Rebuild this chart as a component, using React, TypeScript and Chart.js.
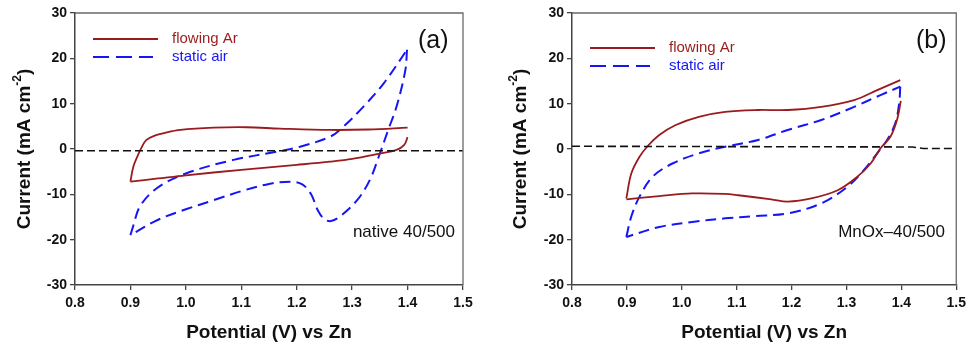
import React, { useEffect, useRef } from "react";
import { Chart, registerables } from "chart.js";

Chart.register(...registerables);

// ---- Panel (a) native 40/500 ----
// flowing Ar: anodic-to-cathodic (upper) branch and return (lower) branch
const aArUpX = [1.4, 1.33, 1.26, 1.17, 1.11, 1.05, 0.99, 0.96, 0.945, 0.929, 0.92, 0.913, 0.905, 0.9];
const aArUpY = [4.7, 4.3, 4.2, 4.5, 4.8, 4.7, 4.2, 3.5, 3.0, 2.0, 0.3, -1.5, -4.0, -7.2];
const aArLoX = [0.9, 0.95, 1.0, 1.1, 1.2, 1.26, 1.3, 1.35, 1.38, 1.394, 1.4];
const aArLoY = [-7.2, -6.5, -5.8, -4.6, -3.5, -2.8, -2.2, -1.0, -0.2, 0.9, 2.6];
// static air
const aAirUpX = [0.9, 0.905, 0.917, 0.947, 1.0, 1.086, 1.164, 1.206, 1.26, 1.284, 1.32, 1.357, 1.399];
const aAirUpY = [-19, -17, -12.7, -8.7, -5.4, -2.4, -0.6, 0.5, 2.7, 4.9, 9.3, 14.5, 21.9];
const aAirLoX = [1.399, 1.396, 1.38, 1.365, 1.35, 1.332, 1.309, 1.278, 1.262, 1.25, 1.238, 1.226, 1.21, 1.19, 1.15, 1.1, 1.05, 1.0, 0.95, 0.9];
const aAirLoY = [21.9, 17.4, 9.3, 4.2, -1.0, -6.8, -11.3, -14.9, -15.9, -15.5, -13.5, -10.0, -7.8, -7.2, -7.7, -9.3, -11.3, -13.3, -15.6, -19];
const aBaseX = [0.8, 1.5];
const aBaseY = [-0.4, -0.4];

// ---- Panel (b) MnOx-40/500 ----
const bArUpX = [0.899, 0.908, 0.923, 0.938, 0.959, 0.989, 1.031, 1.079, 1.139, 1.193, 1.254, 1.314, 1.356, 1.398];
const bArUpY = [-10.9, -5.4, -1.7, 0.66, 3.1, 5.3, 7.1, 8.2, 8.6, 8.6, 9.3, 10.8, 13.0, 15.2];
const bArLoX = [1.399, 1.392, 1.38, 1.362, 1.344, 1.32, 1.284, 1.236, 1.193, 1.163, 1.103, 1.079, 1.019, 0.959, 0.899];
const bArLoY = [10.6, 6.4, 2.7, 0.15, -3.2, -6.1, -9.1, -10.9, -11.6, -11.1, -10.2, -9.9, -9.8, -10.4, -11.1];
const bAirUpX = [0.899, 0.908, 0.923, 0.947, 0.983, 1.031, 1.079, 1.139, 1.193, 1.254, 1.314, 1.362, 1.398];
const bAirUpY = [-19.4, -14.9, -10.5, -6.1, -3.2, -0.95, 0.5, 2.0, 4.2, 6.4, 9.3, 11.9, 13.75];
const bAirLoX = [1.398, 1.396, 1.389, 1.374, 1.356, 1.332, 1.302, 1.254, 1.193, 1.133, 1.079, 1.019, 0.959, 0.899];
const bAirLoY = [13.75, 10.1, 5.7, 2.0, -0.95, -4.6, -8.3, -12.0, -14.2, -14.8, -15.3, -16.1, -17.2, -19.4];
const bBaseX = [0.8, 1.2, 1.42, 1.44, 1.5];
const bBaseY = [0.6, 0.5, 0.45, 0.1, 0.1];

const seriesLabels = ["flowing Ar", "static air"];
const xTicks = [0.8, 0.9, 1.0, 1.1, 1.2, 1.3, 1.4, 1.5];
const yTicks = [-30, -20, -10, 0, 10, 20, 30];

const RED = "#9A1B1E";
const BLUE = "#1616F5";
const FONT = "'Liberation Sans', Arial, sans-serif";

const pts = (xs: number[], ys: number[]) => xs.map((x, i) => ({ x, y: ys[i] }));

type PanelProps = {
  left: number;
  width: number;
  plotLeft: number;
  plotRight: number;
  ar: number[][][];
  air: number[][][];
  baseX: number[]; baseY: number[];
  letter: string;
  letterX: number;
  note: string;
  noteRight: number;
  legendX: number;
  legendY: number;
  ytitleX: number;
};

function Panel(p: PanelProps) {
  const ref = useRef<HTMLCanvasElement | null>(null);
  useEffect(() => {
    const H = 348;
    const plotTop = 13;
    const plotBottom = 285;
    const overlay = {
      id: "overlay",
      afterDraw(chart: any) {
        const ctx = chart.ctx;
        const a = chart.chartArea;
        ctx.save();
        // top & right frame
        ctx.strokeStyle = "#6a6a6a";
        ctx.lineWidth = 1.3;
        ctx.beginPath();
        ctx.moveTo(a.left, a.top);
        ctx.lineTo(a.right, a.top);
        ctx.lineTo(a.right, a.bottom);
        ctx.stroke();
        // legend
        ctx.lineWidth = 2;
        ctx.strokeStyle = RED;
        ctx.setLineDash([]);
        ctx.beginPath();
        ctx.moveTo(p.legendX, p.legendY);
        ctx.lineTo(p.legendX + 65, p.legendY);
        ctx.stroke();
        ctx.strokeStyle = BLUE;
        ctx.setLineDash([16, 7]);
        ctx.beginPath();
        ctx.moveTo(p.legendX, p.legendY + 18);
        ctx.lineTo(p.legendX + 60, p.legendY + 18);
        ctx.stroke();
        ctx.setLineDash([]);
        ctx.font = `15px ${FONT}`;
        ctx.textBaseline = "middle";
        ctx.textAlign = "left";
        ctx.fillStyle = RED;
        ctx.fillText(seriesLabels[0], p.legendX + 79, p.legendY);
        ctx.fillStyle = BLUE;
        ctx.fillText(seriesLabels[1], p.legendX + 79, p.legendY + 18);
        // panel letter
        ctx.fillStyle = "#111";
        ctx.font = `25px ${FONT}`;
        ctx.fillText(p.letter, p.letterX, 41);
        // note
        ctx.font = `17px ${FONT}`;
        ctx.textAlign = "right";
        ctx.fillText(p.note, p.noteRight, 232);
        // x title
        ctx.font = `bold 19px ${FONT}`;
        ctx.textAlign = "center";
        ctx.fillText("Potential (V) vs Zn", (a.left + a.right) / 2, 333);
        // y title with superscript
        ctx.translate(p.ytitleX, (plotTop + plotBottom) / 2);
        ctx.rotate(-Math.PI / 2);
        const big = `bold 19px ${FONT}`;
        const small = `bold 12px ${FONT}`;
        const t1 = "Current (mA cm";
        const t2 = "-2";
        const t3 = ")";
        ctx.font = big;
        const w1 = ctx.measureText(t1).width;
        const w3 = ctx.measureText(t3).width;
        ctx.font = small;
        const w2 = ctx.measureText(t2).width;
        const total = w1 + w2 + w3;
        const x0 = -total / 2;
        ctx.textAlign = "left";
        ctx.font = big;
        ctx.fillText(t1, x0, 0);
        ctx.font = small;
        ctx.fillText(t2, x0 + w1, -7);
        ctx.font = big;
        ctx.fillText(t3, x0 + w1 + w2, 0);
        ctx.restore();
      },
    };
    const datasets: any[] = [
      {
        label: "zero",
        data: pts(p.baseX, p.baseY),
        showLine: true,
        borderColor: "#111",
        borderWidth: 1.6,
        borderDash: [8, 4],
        pointRadius: 0,
        tension: 0,
      },
    ];
    p.ar.forEach(([xs, ys]) =>
      datasets.push({
        label: seriesLabels[0],
        data: pts(xs, ys),
        showLine: true,
        borderColor: RED,
        borderWidth: 1.8,
        pointRadius: 0,
        tension: 0.35,
      })
    );
    p.air.forEach(([xs, ys]) =>
      datasets.push({
        label: seriesLabels[1],
        data: pts(xs, ys),
        showLine: true,
        borderColor: BLUE,
        borderWidth: 2,
        borderDash: [11, 6],
        pointRadius: 0,
        tension: 0.35,
      })
    );
    const chart = new Chart(ref.current as HTMLCanvasElement, {
      type: "scatter",
      data: { datasets },
      options: {
        animation: false,
        responsive: false,
        maintainAspectRatio: false,
        layout: { padding: { left: 0, right: p.width - p.plotRight, top: plotTop, bottom: 0 } },
        plugins: { legend: { display: false }, tooltip: { enabled: false }, title: { display: false } },
        scales: {
          x: {
            type: "linear",
            min: 0.8,
            max: 1.5,
            afterBuildTicks: (s: any) => { s.ticks = xTicks.map((v) => ({ value: v })); },
            afterFit: (s: any) => { s.height = H - plotBottom; },
            ticks: {
              callback: (v: any) => Number(v).toFixed(1),
              color: "#111",
              font: { family: FONT, size: 14, weight: "bold" },
              padding: 5,
              maxRotation: 0,
            },
            grid: { drawOnChartArea: false, drawTicks: true, tickLength: 5, color: "#444", lineWidth: 1.3 },
            border: { display: true, color: "#444", width: 1.5 },
          },
          y: {
            type: "linear",
            min: -30,
            max: 30,
            afterBuildTicks: (s: any) => { s.ticks = yTicks.map((v) => ({ value: v })); },
            afterFit: (s: any) => { s.width = p.plotLeft; },
            ticks: {
              color: "#111",
              font: { family: FONT, size: 14, weight: "bold" },
              padding: 3,
            },
            grid: { drawOnChartArea: false, drawTicks: true, tickLength: 5, color: "#444", lineWidth: 1.3 },
            border: { display: true, color: "#444", width: 1.5 },
          },
        },
      },
      plugins: [overlay],
    } as any);
    return () => chart.destroy();
  }, []);
  return (
    <canvas
      ref={ref}
      width={p.width}
      height={348}
      style={{ position: "absolute", left: p.left, top: 0, width: p.width, height: 348 }}
    />
  );
}

export default function App() {
  useEffect(() => {
    document.body.style.margin = "0";
  }, []);
  return (
    <div style={{ position: "relative", width: 971, height: 348, background: "#fff", overflow: "hidden" }}>
      <Panel
        left={0}
        width={485}
        plotLeft={75}
        plotRight={463}
        ar={[[aArUpX, aArUpY], [aArLoX, aArLoY]]}
        air={[[aAirUpX, aAirUpY], [aAirLoX, aAirLoY]]}
        baseX={aBaseX} baseY={aBaseY}
        letter="(a)"
        letterX={418}
        note="native 40/500"
        noteRight={455}
        legendX={93}
        legendY={39}
        ytitleX={25}
      />
      <Panel
        left={490}
        width={481}
        plotLeft={82}
        plotRight={470}
        ar={[[bArUpX, bArUpY], [bArLoX, bArLoY]]}
        air={[[bAirUpX, bAirUpY], [bAirLoX, bAirLoY]]}
        baseX={bBaseX} baseY={bBaseY}
        letter="(b)"
        letterX={426}
        note="MnOx–40/500"
        noteRight={455}
        legendX={100}
        legendY={48}
        ytitleX={31}
      />
    </div>
  );
}
